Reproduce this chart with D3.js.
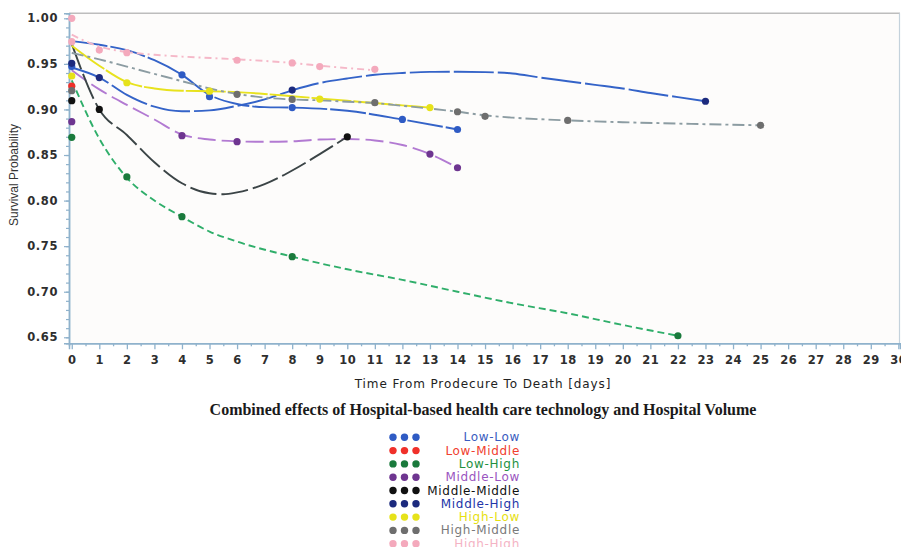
<!DOCTYPE html>
<html><head><meta charset="utf-8">
<script src="https://d3js.org/d3.v7.min.js"></script>
<style>body{margin:0;background:#fff;}svg{display:block;}</style>
</head><body>
<svg id="chart" width="901" height="547"></svg>
<script>
// ---------- DATA ----------
const groups = ["Low-Low","Low-Middle","Low-High","Middle-Low","Middle-Middle","Middle-High","High-Low","High-Middle","High-High"];
const xTicks = d3.range(0, 31);
const yTicks = [0.65,0.70,0.75,0.80,0.85,0.90,0.95,1.00];

// observed points (markers)
const lowLowDays = [0,4,5,8,12,14];
const lowLowSurv = [0.947,0.938,0.914,0.902,0.889,0.878];
const lowMiddleDays = [0];
const lowMiddleSurv = [0.9257];
const lowHighDays = [0,2,4,8,22];
const lowHighSurv = [0.8694,0.826,0.7823,0.7385,0.6517];
const middleLowDays = [0,4,6,13,14];
const middleLowSurv = [0.8866,0.8712,0.8646,0.851,0.836];
const middleMiddleDays = [0,1,10];
const middleMiddleSurv = [0.9096,0.900,0.870];
const middleHighDays = [0,1,8,23];
const middleHighSurv = [0.9506,0.935,0.9213,0.909];
const highLowDays = [0,2,5,9,13];
const highLowSurv = [0.9367,0.9293,0.920,0.9114,0.902];
const highMiddleDays = [0,6,8,11,14,15,18,25];
const highMiddleSurv = [0.9206,0.9166,0.911,0.9074,0.8975,0.8925,0.888,0.8826];
const highHighDays = [0,0,1,2,6,8,9,11];
const highHighSurv = [1.00,0.9744,0.9652,0.9623,0.954,0.951,0.947,0.944];

// smoothed fitted curves
const lowLowFitDays = [0,1,2,3,4,5,6,7,8,10,12,14];
const lowLowFit = [0.975,0.971,0.965,0.954,0.938,0.916,0.906,0.9025,0.902,0.8985,0.889,0.878];
const lowHighFitDays = [0,1,2,3,4,5,6,8,10,12,14,16,18,20,22];
const lowHighFit = [0.932,0.868,0.825,0.800,0.7823,0.766,0.755,0.7385,0.7246,0.713,0.700,0.6873,0.6763,0.6635,0.6517];
const middleLowFitDays = [0,1,2,3,4,5,6,7,8,9,10,11,12,13,14];
const middleLowFit = [0.943,0.922,0.905,0.889,0.8725,0.867,0.865,0.8645,0.865,0.867,0.8675,0.866,0.861,0.851,0.836];
const middleMiddleFitDays = [0,1,2,3,4,5,5.5,6,7,8,9,10];
const middleMiddleFit = [0.972,0.900,0.872,0.842,0.819,0.808,0.807,0.809,0.818,0.833,0.851,0.870];
const middleHighFitDays = [0,1,2,3,4,5,6,7,8,9,10,11,12,13,14,15,16,17,18,19,20,21,22,23];
const middleHighFit = [0.946,0.935,0.916,0.903,0.898,0.899,0.904,0.911,0.921,0.929,0.934,0.938,0.940,0.9412,0.9414,0.941,0.9395,0.935,0.931,0.927,0.923,0.918,0.9135,0.909];
const highLowFitDays = [0,1,2,3,4,5,6,7,8,9,10,11,12,13];
const highLowFit = [0.970,0.948,0.930,0.923,0.9205,0.920,0.919,0.917,0.9145,0.912,0.9095,0.907,0.9045,0.902];
const highMiddleFitDays = [0,1,2,3,4,5,6,7,8,9,10,11,12,13,14,15,16,18,20,22,25];
const highMiddleFit = [0.962,0.955,0.947,0.939,0.931,0.923,0.917,0.913,0.911,0.910,0.9085,0.907,0.904,0.901,0.8975,0.8935,0.891,0.888,0.886,0.8845,0.8826];
const highHighFitDays = [0,1,2,3,4,6,8,9,11];
const highHighFit = [0.982,0.969,0.963,0.960,0.958,0.955,0.951,0.948,0.943];

// ---------- STYLES ----------
const markerColors = ["#2f5bc4","#f0302a","#1a7a3c","#6e3590","#111111","#1c2a7e","#e6e21a","#6e6e6e","#f4a9bc"];
const lineColors   = ["#3463c8",null,"#2fae6a","#b27ad2","#3b4446","#3463c8","#e8e21e","#8c9ca2","#f5b8c8"];
const textColors   = ["#3a5cc0","#f0402e","#22903e","#9a55c0","#111111","#2235a8","#e6e010","#7a7a7a","#f4b3c4"];
const dashes = ["36,3",null,"7,4","18,6","27,5","40,4","40,2","12,4,3,4","7,4,2,4"];

const points = [
  [lowLowDays,lowLowSurv],[lowMiddleDays,lowMiddleSurv],[lowHighDays,lowHighSurv],
  [middleLowDays,middleLowSurv],[middleMiddleDays,middleMiddleSurv],[middleHighDays,middleHighSurv],
  [highLowDays,highLowSurv],[highMiddleDays,highMiddleSurv],[highHighDays,highHighSurv]];
const fits = [
  [lowLowFitDays,lowLowFit],null,[lowHighFitDays,lowHighFit],
  [middleLowFitDays,middleLowFit],[middleMiddleFitDays,middleMiddleFit],[middleHighFitDays,middleHighFit],
  [highLowFitDays,highLowFit],[highMiddleFitDays,highMiddleFit],[highHighFitDays,highHighFit]];

// ---------- CHART ----------
const svg = d3.select("#chart");
const x = d3.scaleLinear().domain([-0.1, 30.06]).range([69, 900]);
const y = d3.scaleLinear().domain([0.6434, 1.0055]).range([343.3, 13.3]);

svg.append("rect").attr("x",69).attr("y",13.3).attr("width",831).attr("height",330)
  .attr("fill","#fdfcfb");

// frame
svg.append("line").attr("x1",69).attr("x2",900).attr("y1",13.3).attr("y2",13.3)
  .attr("stroke","#bdbdbd").attr("stroke-width",1.5);
svg.append("line").attr("x1",899.5).attr("x2",899.5).attr("y1",13.3).attr("y2",343.3)
  .attr("stroke","#c4d2dc").attr("stroke-width",1.2);

const axisColor = "#8fb2cc";
// x minor ticks
const xAxisG = svg.append("g").attr("transform","translate(0,343.3)");
xAxisG.call(d3.axisBottom(x).tickValues(d3.range(0.5,30,1)).tickSize(3).tickFormat(""));
const xMain = svg.append("g").attr("transform","translate(0,343.3)")
  .call(d3.axisBottom(x).tickValues(xTicks).tickSize(6).tickPadding(7).tickFormat(d3.format("d")));
[xAxisG, xMain].forEach(g => {
  g.select(".domain").attr("stroke",axisColor).attr("stroke-width",1.5);
  g.selectAll(".tick line").attr("stroke",axisColor).attr("stroke-width",1.3);
});
xMain.selectAll(".tick text").attr("fill","#2e2e2e").attr("font-family","DejaVu Sans")
  .attr("font-weight","bold").attr("font-size",11.5).attr("letter-spacing","0.5px");

const yMinor = svg.append("g").attr("transform","translate(69,0)")
  .call(d3.axisLeft(y).tickValues(d3.range(0.65,1.0001,0.01)).tickSize(3).tickFormat(""));
const yMain = svg.append("g").attr("transform","translate(69,0)")
  .call(d3.axisLeft(y).tickValues(yTicks).tickSize(5).tickPadding(6).tickFormat(d3.format(".2f")));
[yMinor, yMain].forEach(g => {
  g.select(".domain").attr("stroke",axisColor).attr("stroke-width",1.5);
  g.selectAll(".tick line").attr("stroke",axisColor).attr("stroke-width",1.2);
});
yMain.selectAll(".tick text").attr("fill","#2e2e2e").attr("font-family","DejaVu Sans")
  .attr("font-weight","bold").attr("font-size",11.5).attr("letter-spacing","0.6px");

// axis titles
svg.append("text").attr("transform","translate(18,175) rotate(-90)")
  .attr("text-anchor","middle").attr("font-family","Liberation Sans").attr("font-size",12)
  .attr("fill","#333").text("Survival Probability");
svg.append("text").attr("x",483).attr("y",388).attr("text-anchor","middle")
  .attr("font-family","DejaVu Sans").attr("font-size",12).attr("letter-spacing","0.9px")
  .attr("fill","#222").text("Time From Prodecure To Death [days]");
svg.append("text").attr("x",483).attr("y",415).attr("text-anchor","middle")
  .attr("font-family","Liberation Serif").attr("font-weight","bold").attr("font-size",16)
  .attr("fill","#1a1a1a").text("Combined effects of Hospital-based health care technology and Hospital Volume");

// fitted lines
const line = d3.line().x(d => x(d[0])).y(d => y(d[1])).curve(d3.curveMonotoneX);
const plotG = svg.append("g");
fits.forEach((f, i) => {
  if (!f) return;
  const pts = f[0].map((d, j) => [d, f[1][j]]);
  plotG.append("path").attr("d", line(pts)).attr("fill","none")
    .attr("stroke", lineColors[i]).attr("stroke-width",1.9)
    .attr("stroke-dasharray", dashes[i]);
});
// markers
points.forEach((p, i) => {
  plotG.selectAll(null).data(p[0].map((d, j) => [d, p[1][j]])).enter()
    .append("circle").attr("cx", d => x(d[0])).attr("cy", d => y(d[1])).attr("r",3.6)
    .attr("fill", markerColors[i]);
});

// legend
const lg = svg.append("g");
groups.forEach((g, i) => {
  const yy = 437.3 + i * 13.3;
  [393, 404.5, 416].forEach(cx => {
    lg.append("circle").attr("cx", cx).attr("cy", yy).attr("r",3.7).attr("fill", markerColors[i]);
  });
  lg.append("text").attr("x",520).attr("y",yy + 4).attr("text-anchor","end")
    .attr("font-family","DejaVu Sans").attr("font-size",12).attr("letter-spacing","0.7px")
    .attr("fill", textColors[i]).text(g);
});
</script>
</body></html>
